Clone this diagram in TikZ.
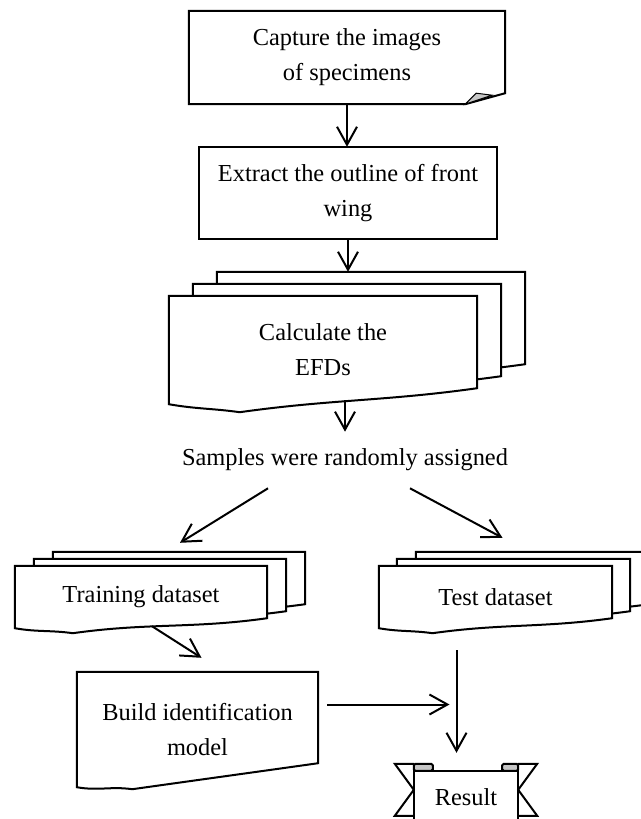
\documentclass[tikz,border=0pt]{standalone}
\usepackage{fontspec}
\setmainfont{Liberation Serif}
\usetikzlibrary{arrows.meta,calc,backgrounds}

\tikzset{
  sheet/.style={draw, line width=2pt, fill=white},
  boxtext/.style={align=center, inner sep=0pt, font=\fontsize{24.4}{35}\selectfont},
  flow/.style={line width=2pt, -{Straight Barb[length=18pt,width=20pt]}},
}
% sheet with a wavy lower edge: node, rise at the right, dip
\newcommand{\wavesheet}[3]{%
  \draw[sheet] (#1.south west) -- (#1.north west) -- (#1.north east)
    -- ([yshift=#2]#1.south east)
    to[out=188,in=8] ($(#1.south west)!0.23!(#1.south east)+(0pt,-#3)$)
    to[out=172,in=-10] (#1.south west) -- cycle;}

\begin{document}
\begin{tikzpicture}[x=1pt,y=-1pt,
  efdsize/.style={minimum width=308pt, minimum height=108pt},
  trainsize/.style={minimum width=252pt, minimum height=62pt},
  testsize/.style={minimum width=233pt, minimum height=62pt}]
\useasboundingbox (0,0) rectangle (640,819);
\clip (0,0) rectangle (640,819);

\node[boxtext, minimum width=316pt, minimum height=93pt] (capture) at (347,57.5) {Capture the images\\of specimens};
\node[boxtext, minimum width=298pt, minimum height=92pt] (extract) at (348,193) {Extract the outline of front\\wing};
\node[boxtext, efdsize] (efds) at (323,350) {Calculate the\\EFDs};
\node[efdsize, inner sep=0pt] (efds2) at ([shift={(24pt,12pt)}]efds.center) {};
\node[efdsize, inner sep=0pt] (efds3) at ([shift={(48pt,24pt)}]efds.center) {};
\node[boxtext, inner ysep=17pt] (samples) at (345,460) {Samples were randomly assigned};
\node[boxtext, trainsize] (training) at (141,597) {Training dataset};
\node[trainsize, inner sep=0pt] (training2) at ([shift={(19pt,7pt)}]training.center) {};
\node[trainsize, inner sep=0pt] (training3) at ([shift={(38pt,14pt)}]training.center) {};
\node[boxtext, testsize] (test) at (495.5,597) {Test dataset};
\node[testsize, inner sep=0pt] (test2) at ([shift={(18pt,7pt)}]test.center) {};
\node[testsize, inner sep=0pt] (test3) at ([shift={(37pt,14pt)}]test.center) {};
\node[boxtext, minimum width=241pt, minimum height=115pt] (build) at (197.5,729.5) {Build identification\\model};
\node[boxtext, minimum width=104pt, minimum height=52pt] (result) at (466,797) {Result};

\begin{scope}[on background layer]
\draw[sheet] (capture.north west) -- (capture.north east) -- ([yshift=11pt]capture.south east)
  -- ([xshift=-40pt]capture.south east) -- (capture.south west) -- cycle;
\filldraw[line width=1pt, fill=gray!45] ([xshift=-40pt]capture.south east) -- ([shift={(-29pt,11pt)}]capture.south east)
  -- ([shift={(-13pt,9pt)}]capture.south east) -- cycle;
\draw[sheet] (extract.north west) rectangle (extract.south east);
\wavesheet{efds3}{16pt}{8pt}
\wavesheet{efds2}{16pt}{8pt}
\wavesheet{efds}{16pt}{8pt}
\wavesheet{training3}{10pt}{5pt}
\wavesheet{training2}{10pt}{5pt}
\wavesheet{training}{10pt}{5pt}
\wavesheet{test3}{10pt}{5pt}
\wavesheet{test2}{10pt}{5pt}
\wavesheet{test}{10pt}{5pt}
\wavesheet{build}{24pt}{2pt}
\draw[sheet] (result.north west) rectangle (result.south east);
\filldraw[fill=gray!45, line width=2pt, rounded corners=1.5pt] (result.north west) rectangle ([shift={(19pt,7pt)}]result.north west);
\filldraw[fill=gray!45, line width=2pt, rounded corners=1.5pt] (result.north east) rectangle ([shift={(-16pt,7pt)}]result.north east);
\draw[line width=2pt] ([yshift=7pt]result.north west) -- ++(-19pt,0pt) -- ++(19pt,-26pt) -- ++(-19pt,-26pt) -- ++(19pt,0pt);
\draw[line width=2pt] ([yshift=7pt]result.north east) -- ++(19pt,0pt) -- ++(-19pt,-26pt) -- ++(19pt,-26pt) -- ++(-19pt,0pt);
\end{scope}

\coordinate (testline) at ([xshift=-39pt]test.south);
\coordinate (buildout) at ([yshift=25pt]build.east);

\draw[flow] (capture.south) -- (capture.south |- extract.north);
\draw[flow] (extract.south) -- (extract.south |- efds3.north);
\draw[flow] ($(efds.south -| samples.north)+(0pt,4pt)$) -- (samples.north);
\draw[flow] ([xshift=-77pt]samples.south) -- ([shift={(1pt,9pt)}]training3.north);
\draw[flow] ([xshift=65pt]samples.south) -- ([shift={(-30pt,14pt)}]test3.north);
\draw[flow] ([shift={(11pt,2pt)}]training.south) -- ([shift={(4pt,14pt)}]build.north);
\draw[flow, shorten >=18pt] ([yshift=-22pt]testline) -- (testline |- result.north);
\draw[flow, shorten <=9pt, shorten >=7pt] (buildout) -- (buildout -| testline);
\end{tikzpicture}
\end{document}
